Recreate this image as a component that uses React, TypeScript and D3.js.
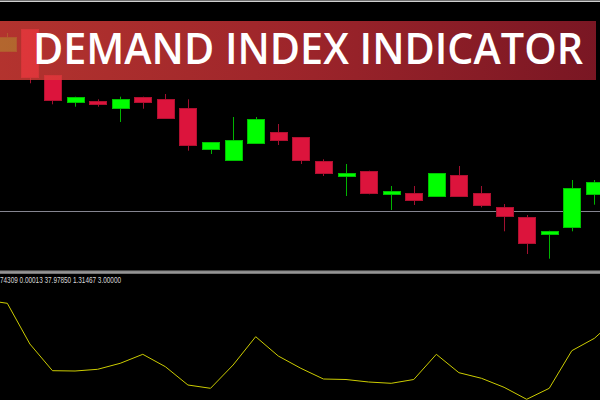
import React from "react";
import * as d3 from "d3";

// ---- data ----
const opens = [1.31493, 1.31707, 1.3125, 1.3098, 1.30987, 1.30913, 1.31033, 1.31007, 1.3092, 1.3051, 1.304, 1.30573, 1.30677, 1.3063, 1.30387, 1.30243, 1.30293, 1.3006, 1.3007, 1.3004, 1.3025, 1.3007, 1.29933, 1.2983, 1.2966, 1.2973, 1.3006];
const highs = [1.3167, 1.3171, 1.3125, 1.31033, 1.31007, 1.31033, 1.31033, 1.3106, 1.31007, 1.3058, 1.3083, 1.3083, 1.3076, 1.3063, 1.30407, 1.3036, 1.30293, 1.3014, 1.3014, 1.3027, 1.3034, 1.3014, 1.2996, 1.2985, 1.29693, 1.302, 1.302];
const lows = [1.3149, 1.31167, 1.30957, 1.30933, 1.30933, 1.3078, 1.30913, 1.3082, 1.30493, 1.3046, 1.304, 1.3057, 1.3055, 1.3036, 1.3024, 1.3004, 1.30057, 1.299, 1.2995, 1.3004, 1.3004, 1.29927, 1.29687, 1.2946, 1.29413, 1.29687, 1.29953];
const closes = [1.31633, 1.31227, 1.31003, 1.31033, 1.30957, 1.31007, 1.3098, 1.3082, 1.3055, 1.3058, 1.306, 1.3081, 1.30597, 1.304, 1.30267, 1.3027, 1.30077, 1.3009, 1.29997, 1.3027, 1.3004, 1.29953, 1.29843, 1.29573, 1.29693, 1.3012, 1.3018];
const levelPrice = 1.2989;

// Demand Index values, bar index -1 .. 27
const diStart = -1;
const diValues = [20.0, 18.68, 2.4, -8.28, -8.4, -7.72, -5.32, -1.72, -6.68, -14.0, -15.32, -6.0, 5.32, -2.4, -7.32, -11.6, -11.8, -12.8, -13.32, -11.8, -1.72, -9.08, -11.32, -14.92, -19.72, -15.32, -0.28, 4.68, 12.8];

const headerText = "74309 0.00013 37.97850 1.31467 3.00000";
const title = "DEMAND INDEX INDICATOR";

const W = 600;
const H = 400;

export default function App() {
  const x = d3.scaleLinear().domain([0, opens.length - 1]).range([7.3, 594.4]);
  const y = d3.scaleLinear().domain([1.32, 1.294]).range([0, 260]);
  const yi = d3.scaleLinear().domain([30, -20]).range([275, 400]);

  const bodyW = 17;
  const line = d3
    .line<number>()
    .x((_, i) => x(i + diStart))
    .y((d) => yi(d));

  const bull = "#00ff00";
  const bear = "#dc143c";

  return (
    <svg
      width={W}
      height={H}
      style={{ position: "fixed", left: 0, top: 0, background: "#000", display: "block" }}
    >
      <defs>
        <linearGradient id="ban" x1="0" x2="1" y1="0" y2="0">
          <stop offset="0" stopColor="#e0403a" />
          <stop offset="0.5" stopColor="#c42e35" />
          <stop offset="1" stopColor="#981c2c" />
        </linearGradient>
        <clipPath id="top">
          <rect x={0} y={0} width={W} height={270} />
        </clipPath>
        <clipPath id="bot">
          <rect x={0} y={274} width={W} height={126} />
        </clipPath>
      </defs>
      <rect x={0} y={0} width={W} height={H} fill="#000" />
      {/* top frame lines */}
      <rect x={0} y={0} width={W} height={1} fill="#6e6e6e" />
      <rect x={0} y={1} width={W} height={1} fill="#cfcfcf" />

      {/* horizontal level */}
      <line x1={0} x2={W} y1={Math.round(y(levelPrice)) + 0.5} y2={Math.round(y(levelPrice)) + 0.5} stroke="#858590" strokeWidth={1} />

      <g clipPath="url(#top)">
        {opens.map((o, i) => {
          const c = closes[i];
          const up = c >= o;
          const cx = Math.round(x(i)) + 0.5;
          const top = y(Math.max(o, c));
          const bot = y(Math.min(o, c));
          return (
            <g key={i}>
              <line
                x1={cx}
                x2={cx}
                y1={y(highs[i])}
                y2={y(lows[i])}
                stroke={up ? "#00b400" : "#a01030"}
                strokeWidth={1}
              />
              <rect
                x={Math.round(x(i) - bodyW / 2) + 0.5}
                y={Math.round(top) + 0.5}
                width={bodyW}
                height={Math.max(2, Math.round(bot - top))}
                fill={up ? bull : bear}
                stroke={up ? "#00c000" : "#b01030"}
                strokeWidth={1}
              />
            </g>
          );
        })}
      </g>

      {/* title banner */}
      <rect x={0} y={21} width={596} height={59} fill="url(#ban)" opacity={0.8} />
      <text
        x={33}
        y={64}
        fill="#ffffff"
        fontFamily="'Open Sans', 'Noto Sans', sans-serif"
        fontWeight={600}
        fontSize={43}
        textLength={550}
        lengthAdjust="spacingAndGlyphs"
      >
        {title}
      </text>

      {/* separator */}
      <rect x={0} y={270.5} width={W} height={2} fill="#8a8a8a" />
      <rect x={0} y={272.5} width={W} height={1} fill="#e6e6e6" />

      {/* indicator */}
      <text
        x={0}
        y={283}
        fill="#d8d8d8"
        fontFamily="'Liberation Sans', 'DejaVu Sans', sans-serif"
        fontSize={8.5}
        textLength={121}
        lengthAdjust="spacingAndGlyphs"
      >
        {headerText}
      </text>
      <g clipPath="url(#bot)">
        <path d={line(diValues) || ""} fill="none" stroke="#cccc00" strokeWidth={1} />
      </g>
    </svg>
  );
}
